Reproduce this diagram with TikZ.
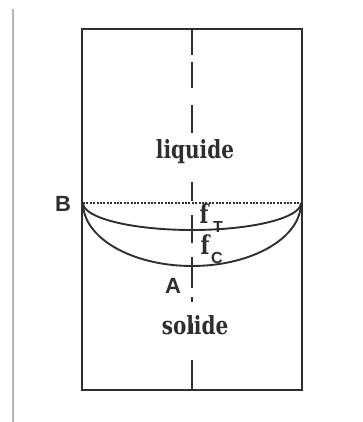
\documentclass[tikz,border=0pt]{standalone}
\usepackage{fontspec}
\newfontfamily\slab[FakeStretch=0.8]{DejaVu Serif}
\newfontfamily\sans{Liberation Sans}
\definecolor{ink}{HTML}{2E2E2E}
\definecolor{rule}{HTML}{B4B4B4}
\tikzset{
  frame/.style={draw=ink, line width=2.2pt},
  axisdash/.style={draw=ink, line width=2pt},
  curve/.style={draw=ink, line width=1.9pt},
  dotline/.style={draw=ink, line width=1.8pt, dash pattern=on 2pt off 1.4pt},
  word/.style={inner sep=0pt, text=ink, font=\slab\bfseries\fontsize{25}{25}\selectfont},
  letter/.style={inner sep=0pt, text=ink, font=\sans\bfseries\fontsize{22}{22}\selectfont},
  fsym/.style={inner sep=0pt, text=ink, font=\slab\bfseries\fontsize{26}{26}\selectfont},
  sub/.style={inner sep=0pt, text=ink, font=\sans\bfseries\fontsize{16}{16}\selectfont}
}
\begin{document}
\begin{tikzpicture}[x=1pt,y=-1pt]
\useasboundingbox (0,0) rectangle (362,422);
% left grey rule
\draw[rule, line width=1.5pt] (13,9) -- (13,422);
% container
\draw[frame] (82,29) rectangle (302,390);
% centre axis (dashed by hand)
\foreach \a/\b in {29/55, 62/88, 105/133, 182/201, 215/243, 257/288, 297/302, 323/333, 360/390}
  \draw[axisdash] (192,\a) -- (192,\b);
% free surface (dotted)
\coordinate (L) at (83,203);
\coordinate (R) at (301,203);
\draw[dotline] (L) -- (R);
% interfaces
\draw[curve] (L) arc[start angle=180, end angle=0, x radius=109, y radius=27];
\draw[curve] (L) arc[start angle=180, end angle=0, x radius=109, y radius=63];
% labels
\node[word] (liq) at (195,152) {liquide};
\node[word] (sol) at (195,325) {solide};
\node[letter] (B) at (63,204) {B};
\node[letter] (A) at (173,286) {A};
\node[fsym] (fT) at (204,214) {f};
\node[sub] (T) at (218,227) {T};
\node[fsym] (fC) at (205,245) {f};
\node[sub] (C) at (217,258) {C};
\end{tikzpicture}
\end{document}
